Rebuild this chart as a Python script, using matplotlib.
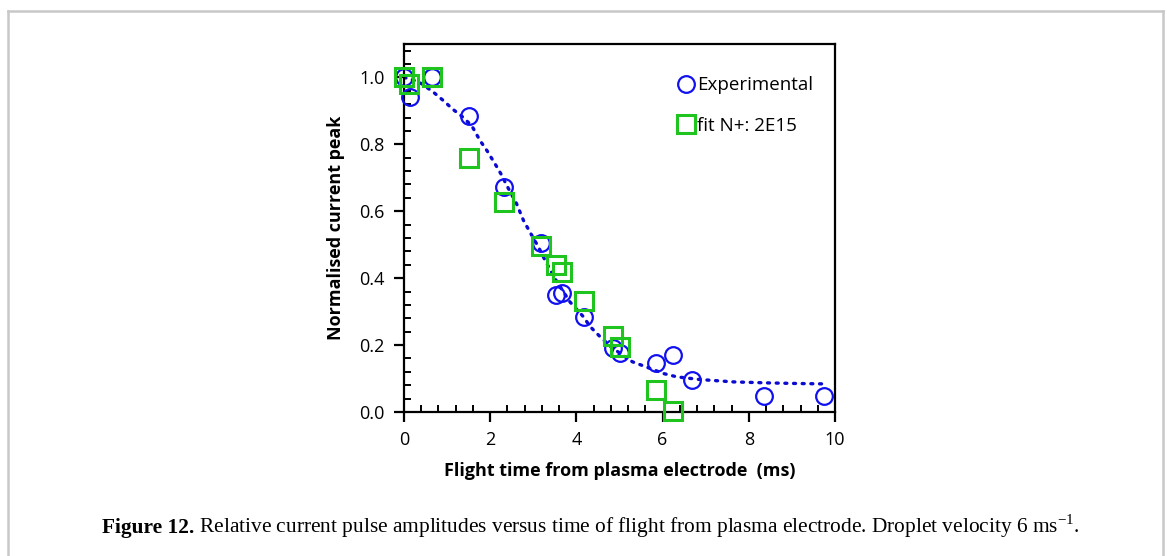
import matplotlib
matplotlib.use("Agg")
import matplotlib.pyplot as plt
from matplotlib.lines import Line2D
from matplotlib.ticker import MultipleLocator, FormatStrFormatter

plt.rcParams['font.family'] = ['Open Sans', 'DejaVu Sans']
plt.rcParams['mathtext.fontset'] = 'custom'
plt.rcParams['mathtext.rm'] = 'Liberation Serif'

# experimental points
exp_t = [0.0, 0.14, 0.66, 1.51, 2.33, 3.18, 3.52, 3.66, 4.17, 4.84, 5.01, 5.85, 6.23, 6.69, 8.36, 9.75]
exp_y = [1.0, 0.94, 1.0, 0.884, 0.673, 0.504, 0.351, 0.357, 0.285, 0.19, 0.175, 0.145, 0.17, 0.095, 0.049, 0.049]

# fit N+: 2E15
fit_t = [0.0, 0.12, 0.66, 1.51, 2.33, 3.18, 3.52, 3.66, 4.17, 4.84, 5.01, 5.85, 6.23]
fit_y = [1.0, 0.98, 1.0, 0.76, 0.628, 0.496, 0.439, 0.417, 0.332, 0.227, 0.195, 0.066, 0.003]

# dotted trend line through the experimental points
trend_t = [0.0, 0.26, 0.41, 0.68, 0.91, 1.14, 1.34, 1.57, 1.76, 1.93, 2.11, 2.27, 2.38, 2.61, 2.77,
           2.92, 3.12, 3.27, 3.5, 3.85, 4.16, 4.32, 4.55, 4.8, 5.05, 5.3, 5.55, 6.02, 6.33, 6.87,
           7.64, 8.42, 9.2, 9.75]
trend_y = [1.0, 0.99, 0.981, 0.956, 0.931, 0.904, 0.884, 0.856, 0.812, 0.78, 0.742, 0.707, 0.678, 0.623, 0.573,
           0.538, 0.493, 0.454, 0.399, 0.329, 0.285, 0.255, 0.225, 0.195, 0.172, 0.15, 0.138, 0.115, 0.105, 0.097,
           0.09, 0.087, 0.085, 0.084]

blue = '#1010f0'
green = '#1fc41f'

fig = plt.figure(figsize=(11.67, 5.56), dpi=100)
ax = fig.add_axes([0.3462, 0.259, 0.3693, 0.662])

ax.plot(trend_t, trend_y, color='#0a0ad0', linestyle=(0, (0.6, 2.0)), linewidth=2.4,
        dash_capstyle='round', zorder=2)
ax.plot(exp_t, exp_y, linestyle='none', marker='o', markersize=12, markerfacecolor='none',
        markeredgecolor=blue, markeredgewidth=1.6, label='Experimental', zorder=3, clip_on=False)
ax.plot(fit_t, fit_y, linestyle='none', marker='s', markersize=13, markerfacecolor='none',
        markeredgecolor=green, markeredgewidth=2.2, label='fit N+: 2E15', zorder=4, clip_on=False)

ax.set_xlim(0, 10)
ax.set_ylim(0, 1.1)
ax.xaxis.set_major_locator(MultipleLocator(2))
ax.xaxis.set_minor_locator(MultipleLocator(0.4))
ax.yaxis.set_major_locator(MultipleLocator(0.2))
ax.yaxis.set_minor_locator(MultipleLocator(0.04))
ax.yaxis.set_major_formatter(FormatStrFormatter('%.1f'))
ax.tick_params(which='major', direction='out', length=7, width=1.6, labelsize=13, pad=7, colors='black')
ax.tick_params(which='minor', direction='in', length=5, width=1.4)
for s in ax.spines.values():
    s.set_linewidth(1.6)

ax.set_xlabel('Flight time from plasma electrode  (ms)', fontsize=13, fontweight='bold', labelpad=9)
ax.set_ylabel('Normalised current peak', fontsize=13, fontweight='bold', labelpad=10)

leg = ax.legend(loc='upper left', bbox_to_anchor=(0.623, 0.932), frameon=False, fontsize=13.5,
                handlelength=0.6, handletextpad=0.3, labelspacing=1.2, borderaxespad=0)

# outer frame
fc = '#c8c8c8'
ytop = 1 - 11 / 556
fig.add_artist(Line2D([8 / 1167, 1163 / 1167], [ytop, ytop], color=fc, linewidth=1.8))
fig.add_artist(Line2D([8 / 1167, 8 / 1167], [0, ytop], color=fc, linewidth=1.8))
fig.add_artist(Line2D([1163 / 1167, 1163 / 1167], [0, ytop], color=fc, linewidth=1.8))

# caption: bold label followed by normal text on the same baseline
cap_y = 1 - 533 / 556
cap = fig.text(102 / 1167, cap_y, 'Figure 12.', fontsize=15.4, fontweight='bold',
               family='Liberation Serif', va='baseline')
fig.canvas.draw()
x1 = fig.transFigure.inverted().transform(cap.get_window_extent().get_points())[1][0]
fig.text(x1, cap_y, ' Relative current pulse amplitudes versus time of flight from plasma electrode. '
         'Droplet velocity 6 ms$^{-1}$.', fontsize=15.4, family='Liberation Serif', va='baseline')

fig.savefig('out.png', dpi=100)
